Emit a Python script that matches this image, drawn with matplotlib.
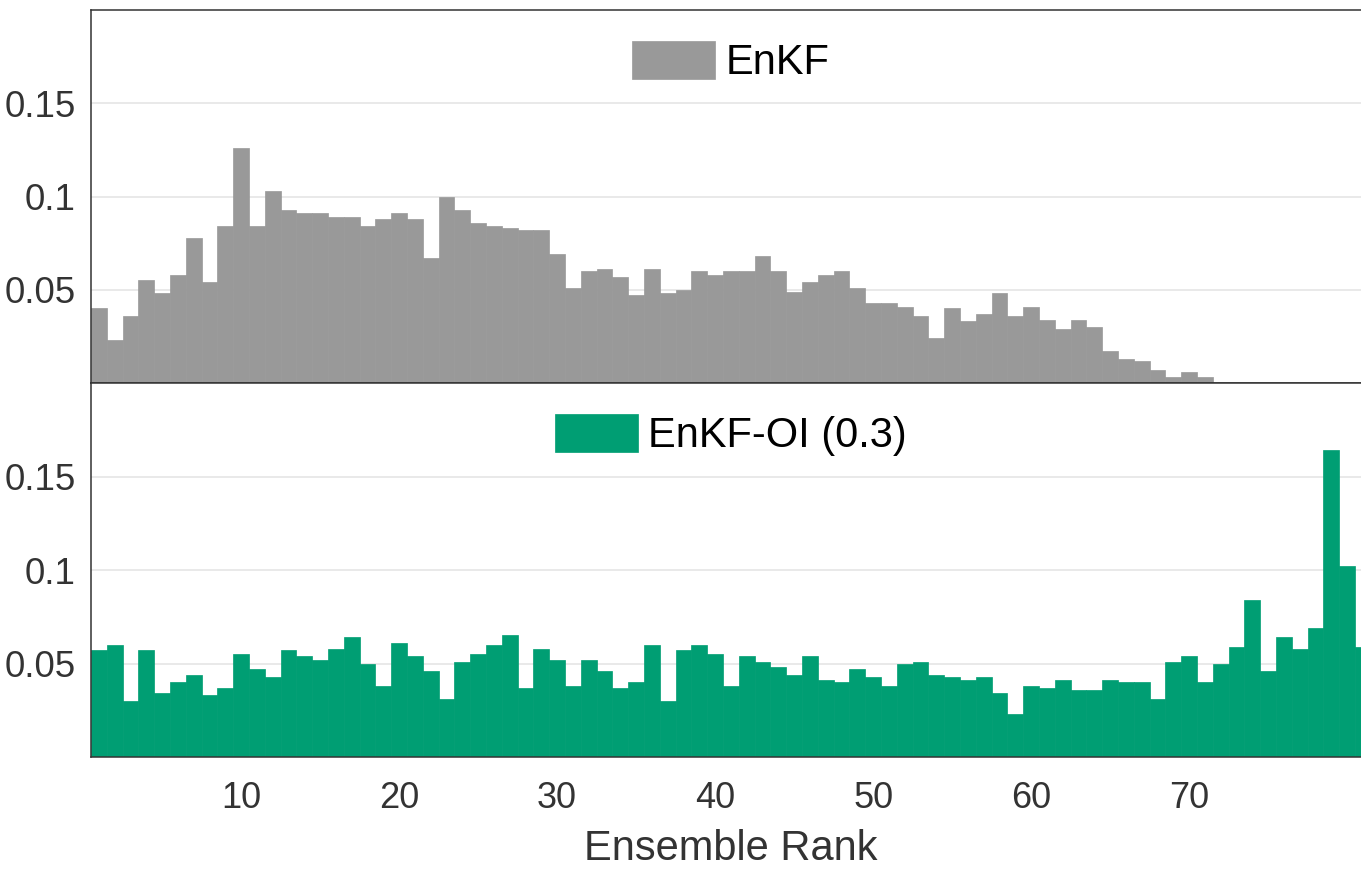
import matplotlib
matplotlib.use("Agg")
import matplotlib.pyplot as plt

ranks = list(range(1, 82))
enkf = [0.040, 0.023, 0.036, 0.055, 0.048, 0.058, 0.078, 0.054, 0.084, 0.126,
        0.084, 0.103, 0.093, 0.091, 0.091, 0.089, 0.089, 0.084, 0.088, 0.091,
        0.088, 0.067, 0.100, 0.093, 0.086, 0.084, 0.083, 0.082, 0.082, 0.069,
        0.051, 0.060, 0.061, 0.057, 0.047, 0.061, 0.048, 0.050, 0.060, 0.058,
        0.060, 0.060, 0.068, 0.060, 0.049, 0.054, 0.058, 0.060, 0.051, 0.043,
        0.043, 0.041, 0.036, 0.024, 0.040, 0.033, 0.037, 0.048, 0.036, 0.041,
        0.034, 0.029, 0.034, 0.030, 0.017, 0.013, 0.012, 0.007, 0.003, 0.006,
        0.003, 0.0, 0.0, 0.0, 0.0, 0.0, 0.0, 0.0, 0.0, 0.0, 0.0]
enkf_oi = [0.057, 0.060, 0.030, 0.057, 0.034, 0.040, 0.044, 0.033, 0.037, 0.055,
           0.047, 0.043, 0.057, 0.054, 0.052, 0.058, 0.064, 0.050, 0.038, 0.061,
           0.054, 0.046, 0.031, 0.051, 0.055, 0.060, 0.065, 0.037, 0.058, 0.052,
           0.038, 0.052, 0.046, 0.037, 0.040, 0.060, 0.030, 0.057, 0.060, 0.055,
           0.038, 0.054, 0.051, 0.048, 0.044, 0.054, 0.041, 0.040, 0.047, 0.043,
           0.038, 0.050, 0.051, 0.044, 0.043, 0.041, 0.043, 0.034, 0.023, 0.038,
           0.037, 0.041, 0.036, 0.036, 0.041, 0.040, 0.040, 0.031, 0.051, 0.054,
           0.040, 0.050, 0.059, 0.084, 0.046, 0.064, 0.058, 0.069, 0.164, 0.102,
           0.059]
labels = ["EnKF", "EnKF-OI (0.3)"]
colors = ["#999999", "#009E73"]
yticks = [0.05, 0.1, 0.15]
ytick_labels = ["0.05", "0.1", "0.15"]
xticks = [10, 20, 30, 40, 50, 60, 70]

plt.rcParams['font.family'] = ['Liberation Sans', 'DejaVu Sans']

W, H = 1361, 869
fig = plt.figure(figsize=(W / 100, H / 100), dpi=100)
left = 91 / W
width = 81 * 15.8 / W
ax1 = fig.add_axes([left, (H - 383) / H, width, 373 / H])
ax2 = fig.add_axes([left, (H - 757) / H, width, 374 / H])

for ax, data, lab, col in zip([ax1, ax2], [enkf, enkf_oi], labels, colors):
    ax.bar(ranks, data, width=1.0, color=col, edgecolor=col, linewidth=0.5,
           label=lab, zorder=2)
    ax.set_xlim(0.5, 81.5)
    ax.set_ylim(0, 0.2)
    ax.set_yticks(yticks)
    ax.set_yticklabels(ytick_labels)
    ax.grid(axis='y', color='#e3e3e3', linewidth=1.1, zorder=0)
    ax.set_axisbelow(True)
    ax.tick_params(axis='y', length=0, pad=11, labelsize=26.5, labelcolor='#333333')
    ax.tick_params(axis='x', length=0)
    for s in ax.spines.values():
        s.set_color('#333333')
        s.set_linewidth(1.1)
    ax.legend(loc='upper center', frameon=False, fontsize=30,
              handlelength=2.0, handleheight=1.0, handletextpad=0.25,
              borderaxespad=0.35)

ax1.set_xticks(xticks)
ax1.tick_params(axis='x', labelbottom=False)
ax2.set_xticks(xticks)
ax2.set_xticklabels([str(t) for t in xticks])
ax2.tick_params(axis='x', pad=17, labelsize=26, labelcolor='#333333')
ax2.set_xlabel("Ensemble Rank", fontsize=30, color='#333333', labelpad=10)

fig.savefig("out.png", dpi=100)
